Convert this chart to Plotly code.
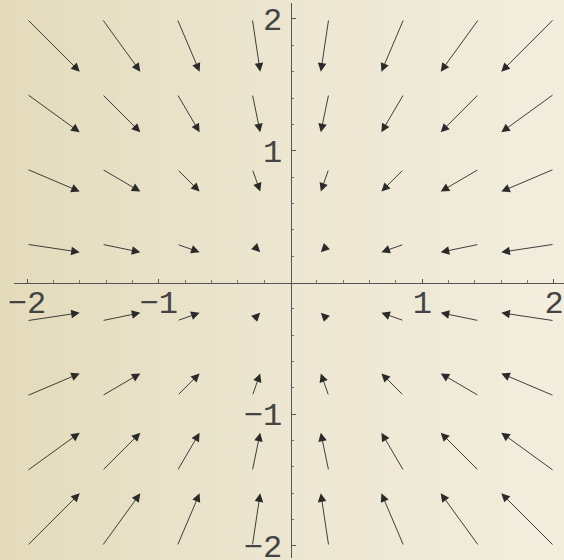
import plotly.graph_objects as go

# grid of base points (arrow tails)
grid_x = [-2.0, -1.43, -0.86, -0.29, 0.29, 0.86, 1.43, 2.0]
grid_y = [2.0, 1.43, 0.86, 0.29, -0.29, -0.86, -1.43, -2.0]

# arrow components: horizontal part depends on the column, vertical on the row
u_by_col = [0.40, 0.29, 0.17, 0.06, -0.06, -0.17, -0.29, -0.40]
v_by_row = [-0.40, -0.29, -0.17, -0.06, 0.06, 0.17, 0.29, 0.40]

tick_vals = [-2, -1, 1, 2]
tick_text = ['\u22122', '\u22121', '1', '2']
minor_vals = [-1.8, -1.6, -1.4, -1.2, -0.8, -0.6, -0.4, -0.2,
              0.2, 0.4, 0.6, 0.8, 1.2, 1.4, 1.6, 1.8]

fig = go.Figure()

# beige gradient behind everything
fig.add_trace(go.Heatmap(
    x=[0, 1], y=[0, 1], z=[[0, 1], [0, 1]],
    zsmooth='best', showscale=False, hoverinfo='skip',
    colorscale=[[0, '#e4dbbb'], [0.55, '#ede7d3'], [1, '#f2eddd']],
    xaxis='x', yaxis='y'
))
# dummy trace so the data axes get drawn
fig.add_trace(go.Scatter(x=[0], y=[0], mode='markers', marker=dict(opacity=0),
                         hoverinfo='skip', showlegend=False, xaxis='x2', yaxis='y2'))

annotations = []
for j, y0 in enumerate(grid_y):
    for i, x0 in enumerate(grid_x):
        annotations.append(dict(
            x=x0 + u_by_col[i], y=y0 + v_by_row[j],
            ax=x0, ay=y0,
            xref='x2', yref='y2', axref='x2', ayref='y2',
            text='', showarrow=True,
            arrowhead=2, arrowsize=1.9, arrowwidth=0.9,
            arrowcolor='#2a2a2a', standoff=0
        ))

axis_style = dict(
    tickmode='array', tickvals=tick_vals, ticktext=tick_text,
    ticks='inside', ticklen=4, tickwidth=1, tickcolor='#555555',
    minor=dict(tickmode='array', tickvals=minor_vals, ticks='inside',
               ticklen=2.5, tickcolor='#777777'),
    showline=True, linecolor='#555555', linewidth=1,
    showgrid=False, zeroline=False, automargin=False,
    ticklabeloverflow='allow',
    tickfont=dict(family='Liberation Mono', size=32, color='#444444'),
)

fig.update_layout(
    template='none',
    width=564, height=560,
    margin=dict(l=0, r=0, t=0, b=0),
    paper_bgcolor='#ede7d3',
    plot_bgcolor='rgba(0,0,0,0)',
    showlegend=False,
    xaxis=dict(domain=[0, 1], range=[0, 1], visible=False, fixedrange=True),
    yaxis=dict(domain=[0, 1], range=[0, 1], visible=False, fixedrange=True),
    xaxis2=dict(domain=[0.0248, 1], range=[-2.099, 2.076],
                anchor='free', position=0.4955, side='bottom',
                ticklabelstandoff=-9, **axis_style),
    yaxis2=dict(domain=[0.0036, 0.9946], range=[-2.091, 2.121],
                anchor='free', position=0.5151, side='left',
                ticklabelstandoff=2, **axis_style),
    annotations=annotations,
)

# drop the browser's default body margin so the figure sits at the corner
fig.write_html("out.html", config={'displayModeBar': False},
               post_script="document.body.style.margin='0';")
